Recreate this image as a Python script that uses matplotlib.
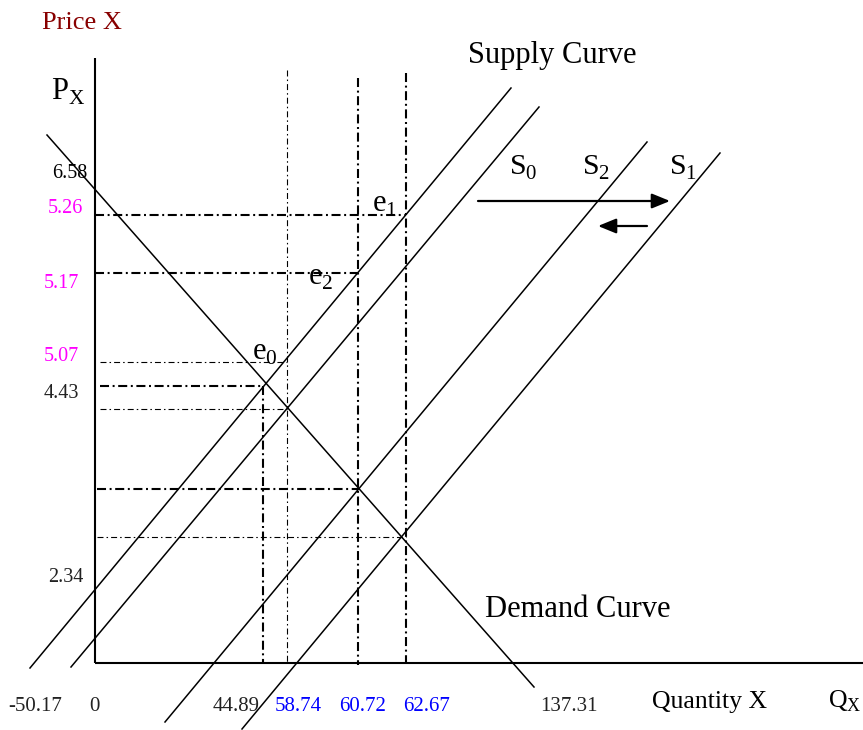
import matplotlib
matplotlib.use("Agg")
from matplotlib import pyplot as plt

plt.rcParams['font.family'] = ['Liberation Serif', 'DejaVu Serif']
plt.rcParams['mathtext.fontset'] = 'custom'
plt.rcParams['mathtext.rm'] = 'Liberation Serif'
plt.rcParams['lines.scale_dashes'] = False

# schematic drawn in a pixel-like frame (x right, y down)
axis_x = 95
axis_y = 663
y_axis_top = 58
x_axis_end = 863

demand_x = [47, 534]
demand_y = [135, 687]

# supply curves S0, S0', S2, S1 : (x0, x1), (y0, y1)
supply_x = [[30, 511], [71, 539], [165, 647], [242, 720]]
supply_y = [[668, 88], [667, 107], [722, 142], [729, 153]]

# guide lines: position, start, end, heavy?
h_guides = [(215, 95, 406, True), (273, 95, 358, True), (362, 100, 287, False),
            (386, 100, 263, True), (409, 100, 287, False), (489, 97, 358, True),
            (537, 97, 406, False)]
v_guides = [(263, 386, 663, True), (287, 70, 663, False),
            (358, 78, 665, True), (406, 73, 663, True)]

# price labels: text, left x, baseline y, colour
price_labels = [("6.58", 52, 178, "black"), ("5.26", 48, 213, "magenta"),
                ("5.17", 44, 288, "magenta"), ("5.07", 44, 361, "magenta"),
                ("4.43", 44, 398, "#222222"), ("2.34", 48, 582, "#222222")]
qty_labels = [("-50.17", 8, "#222222"), ("0", 89, "#222222"), ("44.89", 213, "#222222"),
              ("58.74", 275, "blue"), ("60.72", 339, "blue"), ("62.67", 403, "blue"),
              ("137.31", 540, "#222222")]

curve_names = [(r"$\mathrm{S}_{0}$", 509, 175), (r"$\mathrm{S}_{2}$", 582, 175),
               (r"$\mathrm{S}_{1}$", 669, 175)]
eq_names = [(r"$\mathrm{e}_{1}$", 372, 212), (r"$\mathrm{e}_{2}$", 308, 285),
            (r"$\mathrm{e}_{0}$", 252, 360)]

fig = plt.figure(figsize=(8.63, 7.30), dpi=100)
ax = fig.add_axes([0, 0, 1, 1])
ax.set_xlim(0, 863)
ax.set_ylim(730, 0)
ax.axis('off')

# axes
ax.plot([axis_x, axis_x], [y_axis_top, axis_y], color='black', lw=1.5, solid_capstyle='butt')
ax.plot([axis_x, x_axis_end], [axis_y, axis_y], color='black', lw=1.5, solid_capstyle='butt')

# curves
ax.plot(demand_x, demand_y, color='black', lw=1.1)
for sx, sy in zip(supply_x, supply_y):
    ax.plot(sx, sy, color='black', lw=1.1)

heavy = dict(color='black', lw=1.5, dashes=(6.5, 2.6, 1.4, 2.6))
light = dict(color='black', lw=0.8, dashes=(4.3, 2.2, 1.1, 2.2))
for y, x0, x1, h in h_guides:
    ax.plot([x0, x1], [y, y], **(heavy if h else light))
for x, y0, y1, h in v_guides:
    ax.plot([x, x], [y0, y1], **(heavy if h else light))

# texts
ax.text(42, 29, "Price X", color='#880000', fontsize=19, va='baseline')
ax.text(51, 100, r"$\mathrm{P}_{\mathrm{X}}$", fontsize=22, va='baseline')
for t, x, y, c in price_labels:
    ax.text(x, y, t, color=c, fontsize=14.5, va='baseline')
for t, x, c in qty_labels:
    ax.text(x, 711, t, color=c, fontsize=15, va='baseline')
ax.text(652, 708, "Quantity X", fontsize=18.5, va='baseline')
ax.text(828, 708, r"$\mathrm{Q}_{\mathrm{X}}$", fontsize=18.5, va='baseline')
ax.text(468, 63, "Supply Curve", fontsize=22, va='baseline')
ax.text(485, 617, "Demand Curve", fontsize=22, va='baseline')
for t, x, y in curve_names:
    ax.text(x, y, t, fontsize=21.5, va='baseline')
for t, x, y in eq_names:
    ax.text(x, y, t, fontsize=22, va='baseline')

# shift arrows
ax.annotate('', xy=(670, 201), xytext=(478, 201),
            arrowprops=dict(arrowstyle='-|>,head_length=1.1,head_width=0.45',
                            lw=1.6, color='black', shrinkA=0, shrinkB=0, mutation_scale=10))
ax.annotate('', xy=(598, 226), xytext=(647, 226),
            arrowprops=dict(arrowstyle='-|>,head_length=1.1,head_width=0.45',
                            lw=1.6, color='black', shrinkA=0, shrinkB=0, mutation_scale=10))

fig.savefig("out.png", dpi=100)
